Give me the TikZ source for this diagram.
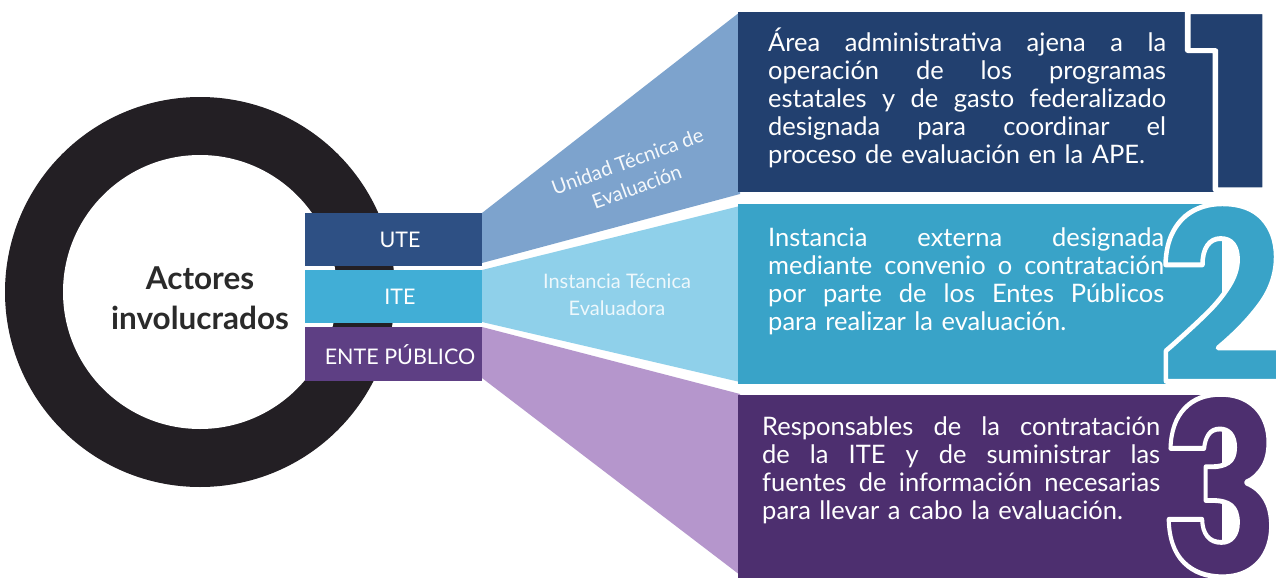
\documentclass[tikz,border=0pt]{standalone}
\usepackage{fontspec}
\setmainfont{Lato}
\newfontfamily\digitfont{Poppins}
\usetikzlibrary{calc}
\definecolor{ringc}{HTML}{231F24}
\definecolor{utebar}{HTML}{2E5084}
\definecolor{utefan}{HTML}{7DA3CD}
\definecolor{utebox}{HTML}{22406F}
\definecolor{itebar}{HTML}{41AED6}
\definecolor{itefan}{HTML}{8FD0EA}
\definecolor{itebox}{HTML}{39A3C8}
\definecolor{entebar}{HTML}{5E3F84}
\definecolor{entefan}{HTML}{B596CC}
\definecolor{entebox}{HTML}{4D2F6F}
\definecolor{centertext}{HTML}{2A2A2A}
% big numeral: filled in the box colour, outlined in white
\newcommand{\bigdigit}[7]{%
  \node[inner sep=0pt, anchor=south west, text=#6] (#1) at (#2,#3)
    {\special{pdf:code 2 Tr 1 j 5 w 1 1 1 RG}\resizebox{#4pt}{#5pt}{\digitfont\bfseries\fontsize{250}{250}\selectfont #7}\special{pdf:code 0 Tr}};
}
\begin{document}
\begin{tikzpicture}[x=1pt,y=-1pt,
  bodytext/.style={text=white, anchor=base west, inner sep=0pt, text width=400pt, align=left, font=\fontsize{25.5}{28}\selectfont},
  barlabel/.style={text=white, inner sep=0pt, font=\fontsize{21.5}{24}\selectfont},
  fanlabel/.style={inner sep=0pt, align=center, font=\fontsize{20}{27}\selectfont},
  centerlabel/.style={text=centertext, inner sep=0pt, align=center, font=\bfseries\fontsize{31.5}{40}\selectfont}]
\useasboundingbox (0,0) rectangle (1288,578);
\fill[white] (0,0) rectangle (1288,578);
% ring
\fill[ringc] (200,292) circle[radius=195];
\fill[white] (200,292) circle[radius=137];
% bars
\fill[utebar] (305,213) rectangle (482,266);
\fill[itebar] (305,270) rectangle (482,323);
\fill[entebar] (305,327) rectangle (482,381);
% fans
\fill[utefan] (482,213) -- (740,12) -- (740,194) -- (482,263) -- cycle;
\fill[itefan] (482,270) -- (740,206) -- (740,382) -- (482,322) -- cycle;
\fill[entefan] (482,327) -- (740,394) -- (740,575) -- (482,378) -- cycle;
% boxes
\fill[utebox] (738,12) rectangle (1222,192);
\fill[itebox] (738,204) rectangle (1222,384);
\fill[entebox] (738,395) rectangle (1222,578);
% digits
\bigdigit{d1}{1180}{190}{105}{178}{utebox}{1}
\bigdigit{d2}{1157}{384}{128}{180}{itebox}{2}
\bigdigit{d3}{1160}{577}{122}{181}{entebox}{3}
% texts
\node[centerlabel] (center) at (200,298) {Actores\\involucrados};
\node[barlabel] (ute) at (400,240) {UTE};
\node[barlabel] (ite) at (400,297) {ITE};
\node[barlabel] (ente) at (400,355) {ENTE PÚBLICO};
\node[fanlabel, text=white!92!utefan, rotate=20] (utel) at (632,174) {Unidad Técnica de\\Evaluación};
\node[fanlabel, text=white!85!itefan] (itel) at (617,295) {Instancia Técnica\\Evaluadora};
\node[bodytext] (t1) at (768,52) {%
\makebox[398pt][l]{Área\hfill administrativa\hfill ajena\hfill a\hfill la}\\
\makebox[398pt][l]{operación\hfill de\hfill los\hfill programas}\\
\makebox[398pt][l]{estatales\hfill y\hfill de\hfill gasto\hfill federalizado}\\
\makebox[398pt][l]{designada\hfill para\hfill coordinar\hfill el}\\
proceso de evaluación en la APE.};
\node[bodytext] (t2) at (768,246) {%
\makebox[396pt][l]{Instancia\hfill externa\hfill designada}\\
\makebox[396pt][l]{mediante\hfill convenio\hfill o\hfill contratación}\\
\makebox[396pt][l]{por\hfill parte\hfill de\hfill los\hfill Entes\hfill Públicos}\\
para realizar la evaluación.};
\node[bodytext] (t3) at (762,435) {%
\makebox[398pt][l]{Responsables\hfill de\hfill la\hfill contratación}\\
\makebox[398pt][l]{de\hfill la\hfill ITE\hfill y\hfill de\hfill suministrar\hfill las}\\
\makebox[398pt][l]{fuentes\hfill de\hfill información\hfill necesarias}\\
para llevar a cabo la evaluación.};
\end{tikzpicture}
\end{document}
